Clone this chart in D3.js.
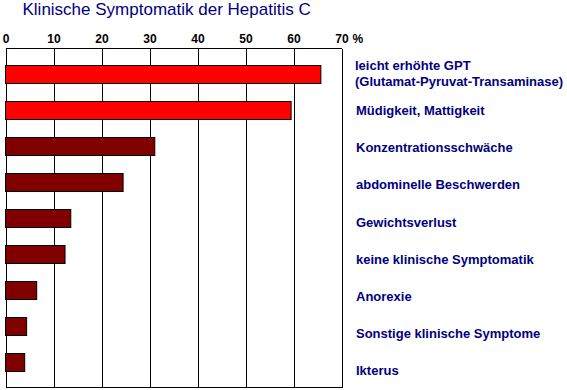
<!DOCTYPE html>
<html>
<head>
<meta charset="utf-8">
<script src="https://cdn.jsdelivr.net/npm/d3@7"></script>
<style>
  html, body { margin: 0; padding: 0; background: #fff; }
  svg { display: block; }
</style>
</head>
<body>
<svg id="chart" width="567" height="390"></svg>
<script>
const title = "Klinische Symptomatik der Hepatitis C";
const categories = [
  "leicht erhöhte GPT|(Glutamat-Pyruvat-Transaminase)",
  "Müdigkeit, Mattigkeit",
  "Konzentrationsschwäche",
  "abdominelle Beschwerden",
  "Gewichtsverlust",
  "keine klinische Symptomatik",
  "Anorexie",
  "Sonstige klinische Symptome",
  "Ikterus"
];
const values = [65.7, 59.5, 31.1, 24.5, 13.6, 12.4, 6.5, 4.4, 4.0];
const highlighted = [true, true, false, false, false, false, false, false, false];
const tickValues = [0, 10, 20, 30, 40, 50, 60, 70];
const unitLabel = "%";

const svg = d3.select("#chart");
const plot = { left: 5.5, right: 341.5, top: 48.5, bottom: 388 };

const x = d3.scaleLinear().domain([0, 70]).range([plot.left, plot.right]);
const y = d3.scaleBand().domain(categories).range([48, 388])
  .paddingInner(0.5).paddingOuter(0.472);
const yLabel = d3.scalePoint().domain(categories).range([78, 375]);

// title
svg.append("text")
  .attr("x", 22.5).attr("y", 15)
  .attr("font-family", "Liberation Sans, Arial, sans-serif")
  .attr("font-size", 17)
  .attr("fill", "#000080")
  .text(title);

// grid lines
svg.append("g").selectAll("line").data(tickValues).join("line")
  .attr("x1", d => Math.round(x(d)) + 0.5)
  .attr("x2", d => Math.round(x(d)) + 0.5)
  .attr("y1", plot.top).attr("y2", plot.bottom)
  .attr("stroke", "#000").attr("stroke-width", 1).attr("shape-rendering", "crispEdges");

// frame top / bottom
svg.append("line").attr("x1", plot.left).attr("x2", plot.right + 0.5)
  .attr("y1", plot.top).attr("y2", plot.top)
  .attr("stroke", "#000").attr("shape-rendering", "crispEdges");
svg.append("line").attr("x1", plot.left).attr("x2", plot.right + 0.5)
  .attr("y1", plot.bottom - 0.5).attr("y2", plot.bottom - 0.5)
  .attr("stroke", "#000").attr("shape-rendering", "crispEdges");

// tick labels via axis
const axis = d3.axisTop(x).tickValues(tickValues).tickSize(0).tickPadding(0);
const gAxis = svg.append("g").attr("transform", "translate(0,43)").call(axis);
gAxis.select(".domain").remove();
gAxis.selectAll("text")
  .attr("font-family", "Liberation Sans, Arial, sans-serif")
  .attr("font-size", 12).attr("font-weight", "bold")
  .attr("fill", "#000").attr("dy", 0).attr("y", 0);
svg.append("text")
  .attr("x", x(70) + 11).attr("y", 43)
  .attr("font-family", "Liberation Sans, Arial, sans-serif")
  .attr("font-size", 12).attr("font-weight", "bold").attr("fill", "#000")
  .text(unitLabel);

// bars
svg.append("g").selectAll("rect").data(values).join("rect")
  .attr("x", x(0))
  .attr("y", (d, i) => Math.round(y(categories[i])) + 0.5)
  .attr("width", d => x(d) - x(0))
  .attr("height", y.bandwidth())
  .attr("fill", (d, i) => highlighted[i] ? "#ff0000" : "#800000")
  .attr("stroke", "#000").attr("stroke-width", 1);

// category labels
const lbl = svg.append("g").selectAll("text").data(categories).join("text")
  .attr("x", 356)
  .attr("y", d => yLabel(d))
  .attr("font-family", "Liberation Sans, Arial, sans-serif")
  .attr("font-size", 13).attr("font-weight", "bold")
  .attr("fill", "#000080");
lbl.each(function(d) {
  const parts = d.split("|");
  const t = d3.select(this);
  if (parts.length === 1) {
    t.text(d);
  } else {
    parts.forEach((p, k) => {
      t.append("tspan").attr("x", 355)
        .attr("dy", k === 0 ? -8 : 15.7)
        .text(p);
    });
  }
});
</script>
</body>
</html>
